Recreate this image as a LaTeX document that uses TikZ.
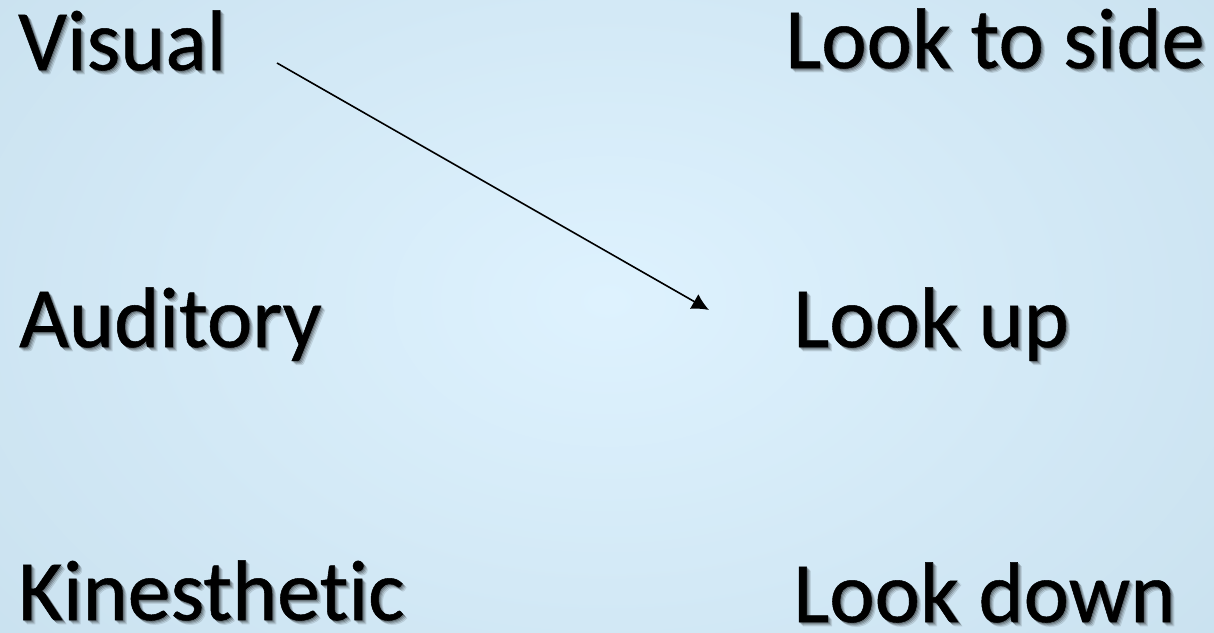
\documentclass[tikz,border=0pt]{standalone}
\usepackage{fontspec}
\setmainfont{Carlito}[Ligatures=NoCommon,FakeBold=0.6]
\usepackage{xcolor}
\usetikzlibrary{calc,arrows.meta}
\definecolor{bginner}{RGB}{222,242,254}
\definecolor{bgouter}{RGB}{200,224,238}

% text with a soft drop shadow
\newcommand{\shadowword}[3]{%
  \foreach \off/\op in {4/0.08,3/0.12,2/0.16,1/0.2}
    {\node[word,text=black,opacity=\op] at ($(#2)+(\off,\off)$) {#3};}
  \node[word] (#1) at (#2) {#3};}

\begin{document}
\begin{tikzpicture}[x=1pt,y=-1pt,
    word/.style={anchor=base west,inner sep=0pt,font=\fontsize{86}{100}\selectfont},
    link/.style={line width=1.6pt,-{Latex[length=17pt,width=17pt]}}]
        \useasboundingbox (0,0) rectangle (1214,632);
        \begin{scope}
        \clip (0,0) rectangle (1214,632);
        \shade[inner color=bginner,outer color=bgouter] (-250,-280) rectangle (1464,882);
        \end{scope}
        \coordinate (V) at (18,70);
        \coordinate (A) at (19,347);
        \coordinate (K) at (18,620);
        \coordinate (S) at (785,68);
        \coordinate (U) at (793,347);
        \coordinate (D) at (793,622);
        \shadowword{visual}{V}{Visual}
        \shadowword{auditory}{A}{Auditory}
        \shadowword{kinesthetic}{K}{Kinesthetic}
        \shadowword{side}{S}{Look to side}
        \shadowword{up}{U}{Look up}
        \shadowword{down}{D}{Look down}
        \coordinate (arrstart) at (277,63);
        \coordinate (arrend) at (709,310);
        \draw[link] (arrstart) -- (arrend);
 \end{tikzpicture}
\end{document}
